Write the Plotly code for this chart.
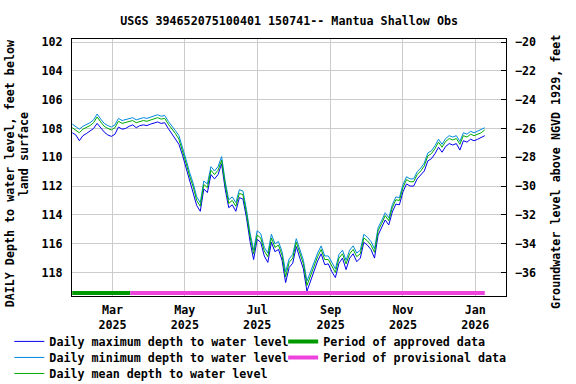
import pandas as pd
import plotly.graph_objects as go

# ---- data (3-day sampling) ----
start_date = "2025-01-26"
n_points = 117
dates = pd.date_range(start_date, periods=n_points, freq="3D")

depth_mean = [
    107.95, 108.10, 108.30, 108.05, 107.95, 107.80, 107.60, 107.20, 107.55, 107.85,
    108.00, 108.10, 107.95, 107.50, 107.65, 107.60, 107.50, 107.45, 107.60, 107.50,
    107.45, 107.50, 107.40, 107.30, 107.25, 107.35, 107.30, 107.70, 108.00, 108.35,
    108.75, 109.50, 110.40, 111.30, 112.05, 113.00, 113.40, 111.90, 112.10, 110.90,
    111.20, 110.90, 110.20, 111.90, 113.20, 113.00, 113.40, 112.50, 112.60, 113.90,
    115.50, 116.70, 115.40, 115.60, 116.50, 116.90, 115.60, 116.25, 116.10, 116.80,
    118.30, 117.30, 117.00, 115.90, 116.70, 117.40, 118.90, 118.20, 117.50, 116.90,
    116.40, 117.10, 117.10, 117.60, 118.00, 117.00, 116.70, 117.40, 116.70, 116.40,
    116.90, 116.70, 115.60, 115.80, 116.10, 116.60, 115.10, 114.60, 114.05, 114.40,
    113.50, 112.95, 113.00, 112.10, 111.55, 111.70, 111.70, 111.20, 110.95, 110.60,
    109.90, 109.75, 109.40, 108.95, 109.30, 108.90, 108.70, 108.80, 108.70, 109.10,
    108.50, 108.60, 108.40, 108.50, 108.40, 108.30, 108.10,
]
depth_max = [
    108.30, 108.45, 108.85, 108.50, 108.35, 108.20, 108.00, 107.65, 107.95, 108.25,
    108.45, 108.55, 108.40, 107.90, 108.05, 108.00, 107.85, 107.75, 107.95, 107.80,
    107.75, 107.80, 107.70, 107.60, 107.55, 107.65, 107.60, 108.00, 108.35, 108.70,
    109.10, 109.85, 110.70, 111.60, 112.35, 113.35, 113.75, 112.20, 112.45, 111.20,
    111.50, 111.20, 110.45, 112.20, 113.50, 113.30, 113.75, 112.80, 112.90, 114.20,
    115.85, 117.10, 115.70, 115.90, 116.85, 117.30, 115.90, 116.55, 116.40, 117.15,
    118.70, 117.65, 117.35, 116.20, 117.00, 117.75, 119.30, 118.55, 117.85, 117.20,
    116.70, 117.45, 117.40, 117.95, 118.35, 117.35, 117.00, 117.80, 117.00, 116.70,
    117.25, 117.00, 115.90, 116.10, 116.40, 117.00, 115.40, 114.90, 114.35, 114.70,
    113.80, 113.25, 113.30, 112.40, 111.85, 112.00, 112.00, 111.50, 111.25, 110.95,
    110.25, 110.10, 109.75, 109.30, 109.65, 109.25, 109.05, 109.15, 109.05, 109.50,
    108.85, 108.95, 108.75, 108.85, 108.75, 108.65, 108.50,
]
depth_min = [
    107.70, 107.90, 108.05, 107.85, 107.75, 107.60, 107.40, 107.00, 107.35, 107.65,
    107.80, 107.90, 107.75, 107.30, 107.45, 107.40, 107.30, 107.25, 107.40, 107.30,
    107.25, 107.30, 107.20, 107.10, 107.05, 107.15, 107.10, 107.50, 107.80, 108.15,
    108.50, 109.25, 110.15, 111.05, 111.80, 112.75, 113.15, 111.65, 111.85, 110.65,
    110.95, 110.65, 109.95, 111.65, 112.95, 112.75, 113.15, 112.25, 112.35, 113.65,
    115.25, 116.45, 115.10, 115.30, 116.25, 116.65, 115.35, 116.00, 115.85, 116.55,
    117.95, 117.05, 116.75, 115.65, 116.45, 117.15, 118.60, 117.95, 117.25, 116.65,
    116.15, 116.85, 116.85, 117.35, 117.75, 116.75, 116.45, 117.15, 116.45, 116.15,
    116.65, 116.45, 115.35, 115.55, 115.85, 116.35, 114.90, 114.40, 113.85, 114.20,
    113.30, 112.75, 112.80, 111.90, 111.35, 111.50, 111.50, 111.00, 110.75, 110.40,
    109.70, 109.55, 109.20, 108.75, 109.10, 108.70, 108.50, 108.60, 108.50, 108.90,
    108.30, 108.40, 108.20, 108.30, 108.20, 108.10, 107.95,
]

approved_period = ["2025-01-26", "2025-03-16"]
provisional_period = ["2025-03-16", "2026-01-09"]
period_bar_depth = 119.42

datum_offset = 82.0  # elevation = datum_offset - depth

x_tick_vals = ["2025-03-01", "2025-05-01", "2025-07-01", "2025-09-01", "2025-11-01", "2026-01-01"]
x_tick_text = ["Mar<br>2025", "May<br>2025", "Jul<br>2025", "Sep<br>2025", "Nov<br>2025", "Jan<br>2026"]
y_tick_vals = [102, 104, 106, 108, 110, 112, 114, 116, 118]
y2_tick_vals = [-20, -22, -24, -26, -28, -30, -32, -34, -36]

y_range = [119.63, 101.79]
x_range = ["2025-01-25 19:00", "2026-01-26 22:00"]

FONT = "DejaVu Sans Mono"
FS = 11.7
font = dict(family=FONT, size=FS, color="black", weight="bold")

fig = go.Figure()
fig.add_trace(go.Scatter(x=dates, y=depth_max, mode="lines", name="Daily maximum depth to water level",
                         line=dict(color="#0000EE", width=1), legend="legend"))
fig.add_trace(go.Scatter(x=dates, y=depth_min, mode="lines", name="Daily minimum depth to water level",
                         line=dict(color="#0088DD", width=1), legend="legend2"))
fig.add_trace(go.Scatter(x=dates, y=depth_mean, mode="lines", name="Daily mean depth to water level",
                         line=dict(color="#00AA00", width=1), legend="legend3"))
fig.add_trace(go.Scatter(x=approved_period, y=[period_bar_depth] * 2, mode="lines",
                         name="Period of approved data", line=dict(color="#009900", width=4),
                         legend="legend4"))
fig.add_trace(go.Scatter(x=provisional_period, y=[period_bar_depth] * 2, mode="lines",
                         name="Period of provisional data", line=dict(color="#EE44DD", width=4),
                         legend="legend5"))
# invisible trace to activate the right axis
fig.add_trace(go.Scatter(x=[dates[0]], y=[datum_offset - depth_mean[0]], mode="lines", yaxis="y2",
                         showlegend=False, hoverinfo="skip", line=dict(color="rgba(0,0,0,0)")))

L, R, T, B = 71.7, 506.0, 39.3, 295.7
W, H = 576, 384
pw, ph = R - L, B - T


def leg(xpx, ypx):
    return dict(x=(xpx - L) / pw, y=(B - ypx) / ph, xanchor="left", yanchor="middle",
                font=font, bgcolor="rgba(0,0,0,0)", itemwidth=30, tracegroupgap=0,
                borderwidth=0)


fig.update_layout(
    width=W, height=H,
    margin=dict(l=L, r=W - R, t=T, b=H - B, pad=0, autoexpand=False),
    paper_bgcolor="white", plot_bgcolor="white",
    font=font,
    title=dict(text="USGS 394652075100401 150741-- Mantua Shallow Obs", font=font,
               x=(289 - L) / pw, xref="paper", xanchor="center",
               y=1 - 21 / H, yref="container", yanchor="middle"),
    xaxis=dict(type="date", range=x_range, tickvals=x_tick_vals, ticktext=x_tick_text,
               showgrid=True, gridcolor="#CCCCCC", gridwidth=1, ticks="",
               showline=True, linecolor="black", linewidth=1, mirror=True,
               tickfont=font, zeroline=False, automargin=False, ticklabelstandoff=3),
    yaxis=dict(range=y_range, tickvals=y_tick_vals, showgrid=True, gridcolor="#CCCCCC",
               gridwidth=1, ticks="", showline=True, linecolor="black", linewidth=1,
               mirror=True, tickfont=font, zeroline=False, ticklabelstandoff=6,
               automargin=False),
    yaxis2=dict(range=[datum_offset - y_range[0], datum_offset - y_range[1]],
                tickvals=y2_tick_vals, overlaying="y", side="right", showgrid=False,
                ticks="inside", ticklen=5, tickcolor="black", tickfont=font,
                zeroline=False, showline=False, ticklabelstandoff=8, automargin=False),
    legend=leg(9, 341),
    legend2=leg(9, 357),
    legend3=leg(9, 373),
    legend4=leg(283, 341),
    legend5=leg(283, 357),
    showlegend=True,
    annotations=[
        dict(text="DAILY Depth to water level, feet below", textangle=-90, font=font,
             xref="paper", yref="paper", x=(10 - L) / pw, y=(B - 173) / ph,
             xanchor="center", yanchor="middle", showarrow=False),
        dict(text="land surface", textangle=-90, font=font,
             xref="paper", yref="paper", x=(24 - L) / pw, y=(B - 154) / ph,
             xanchor="center", yanchor="middle", showarrow=False),
        dict(text="Groundwater level above NGVD 1929, feet", textangle=-90, font=font,
             xref="paper", yref="paper", x=(556 - L) / pw, y=(B - 172) / ph,
             xanchor="center", yanchor="middle", showarrow=False),
    ],
)

fig.write_html("out.html", post_script="document.body.style.margin='0';",
               config={"displayModeBar": False})
